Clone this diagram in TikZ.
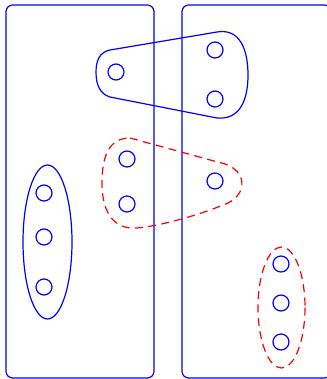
\documentclass[tikz,border=0pt]{standalone}
\usepackage{xcolor}
\usepackage{tikz}
\usetikzlibrary{shapes,positioning,calc}

\tikzset{
  elem/.style={draw=blue, circle, minimum size=12pt, inner sep=0pt, line width=0.9pt},
  setline/.style={draw=blue, line width=0.9pt},
  cutline/.style={draw=red, line width=0.9pt, dash pattern=on 6pt off 4pt}
}

\begin{document}
\begin{tikzpicture}[x=0.75pt, y=-0.75pt]
    % Page frame in reference pixels (y grows downward).
    \useasboundingbox (0,0) rectangle (327,379);
    \clip (0,0) rectangle (327,379);
    % Two partition panels
    \draw[setline, rounded corners=5pt] (6,5) rectangle (154,378);
    \draw[setline, rounded corners=5pt] (182,5) rectangle (331,378);
    % Elements
    \node[elem] (a1) at (116,72) {};
    \node[elem] (a2) at (215,50) {};
    \node[elem] (a3) at (215,99) {};
    \node[elem] (b1) at (127,159) {};
    \node[elem] (b2) at (127,204) {};
    \node[elem] (b3) at (215,181) {};
    \node[elem] (c1) at (44,193) {};
    \node[elem] (c2) at (44,237) {};
    \node[elem] (c3) at (44,287) {};
    \node[elem] (d1) at (281,264) {};
    \node[elem] (d2) at (281,303) {};
    \node[elem] (d3) at (281,342) {};
    % Solid group spanning both panels
    \draw[setline] (110,50) -- (217,32)
      .. controls (240,28) and (248,50) .. (248,75)
      .. controls (248,100) and (240,120) .. (217,118)
      -- (110,97)
      .. controls (100,94) and (96,85) .. (96,72)
      .. controls (96,60) and (100,52) .. (110,50) -- cycle;
    % Dashed group spanning both panels
    \draw[cutline] (130,138) -- (225,164)
      .. controls (246,171) and (248,193) .. (228,203)
      .. controls (200,215) and (160,226) .. (137,228)
      .. controls (112,230) and (102,210) .. (102,183)
      .. controls (102,158) and (108,138) .. (130,138) -- cycle;
    % Groups inside one panel
    \draw[setline] (47.5,242) ellipse [x radius=24.5, y radius=77];
    \draw[cutline] (281.5,307.5) ellipse [x radius=23.5, y radius=60.5];
\end{tikzpicture}
\end{document}
